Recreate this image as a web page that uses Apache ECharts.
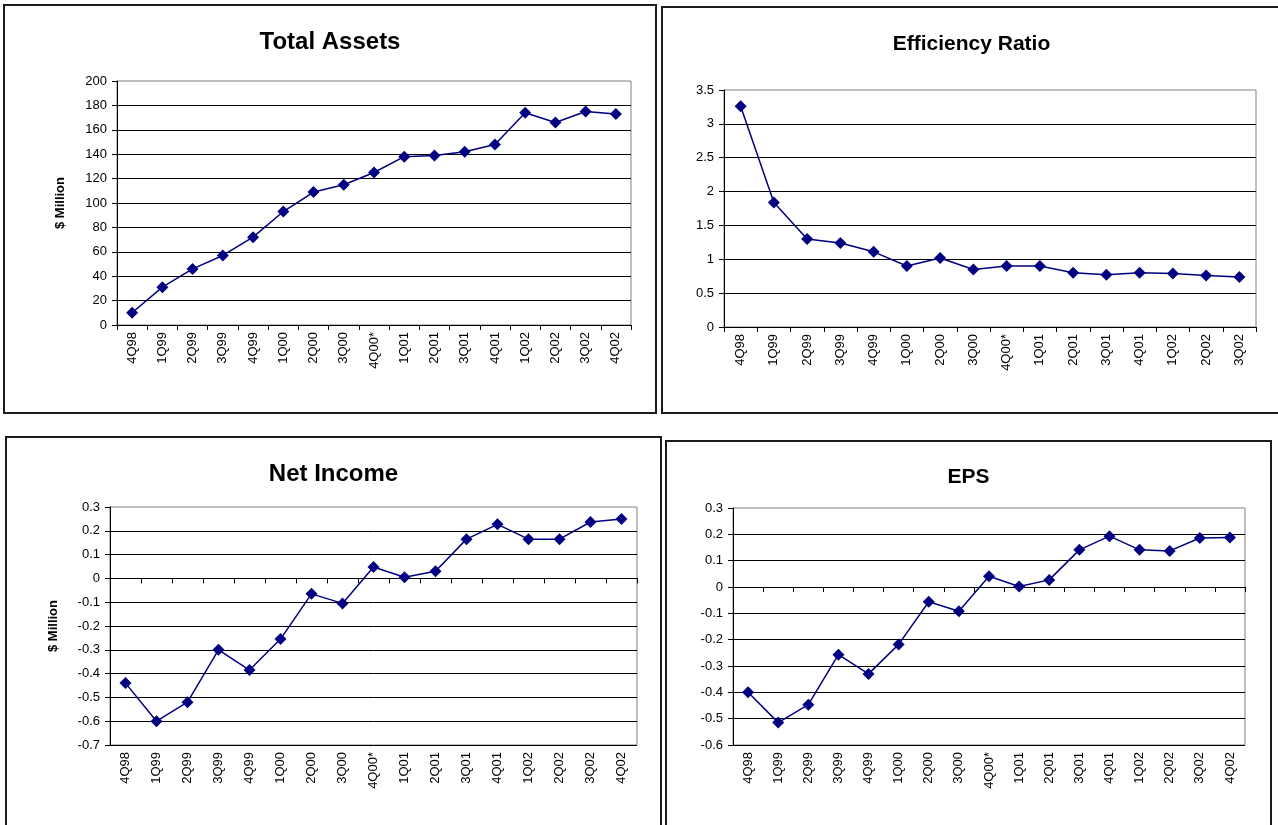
<!DOCTYPE html>
<html>
<head>
<meta charset="utf-8">
<script src="https://cdn.jsdelivr.net/npm/echarts@6/dist/echarts.min.js"></script>
<style>
  html, body { margin: 0; padding: 0; background: #fff; overflow: hidden; }
  .panel { position: absolute; box-sizing: border-box; border: 2px solid #1c1c1c; background: #fff; }
</style>
</head>
<body>
<div id="p1" class="panel" style="left:3px;top:4px;width:654px;height:410px;"></div>
<div id="p2" class="panel" style="left:661px;top:6px;width:621px;height:408px;"></div>
<div id="p3" class="panel" style="left:5px;top:436px;width:657px;height:400px;"></div>
<div id="p4" class="panel" style="left:665px;top:440px;width:607px;height:400px;"></div>
<script>
// quarters (4Q00* as in the report)
var quarters = ['4Q98', '1Q99', '2Q99', '3Q99', '4Q99', '1Q00', '2Q00', '3Q00', '4Q00*',
                '1Q01', '2Q01', '3Q01', '4Q01', '1Q02', '2Q02', '3Q02', '4Q02'];
var effQuarters = ['4Q98', '1Q99', '2Q99', '3Q99', '4Q99', '1Q00', '2Q00', '3Q00', '4Q00*',
                   '1Q01', '2Q01', '3Q01', '4Q01', '1Q02', '2Q02', '3Q02'];

var totalAssets = [10, 31, 46, 57, 72, 93, 109, 115, 125, 138, 139, 142, 148, 174, 166, 175, 173];
var efficiency  = [3.26, 1.84, 1.30, 1.24, 1.11, 0.90, 1.02, 0.85, 0.90, 0.90, 0.80, 0.77, 0.80, 0.79, 0.76, 0.74];
var netIncome   = [-0.44, -0.60, -0.52, -0.30, -0.385, -0.255, -0.065, -0.105, 0.048, 0.005, 0.03,
                   0.165, 0.227, 0.165, 0.165, 0.237, 0.25];
var eps         = [-0.40, -0.515, -0.447, -0.257, -0.33, -0.218, -0.056, -0.092, 0.041, 0.002, 0.027,
                   0.141, 0.193, 0.141, 0.137, 0.186, 0.188];

var FONT = '"Liberation Sans", Arial, sans-serif';

function makeOption(c) {
    return {
        backgroundColor: '#fff',
        animation: false,
        title: {
            text: c.title,
            left: 'center',
            top: c.titleTop,
            padding: 0,
            textStyle: { fontFamily: FONT, fontWeight: 'bold', fontSize: c.titleSize, color: '#000' }
        },
        grid: {
            left: c.grid[0], top: c.grid[1], width: c.grid[2], height: c.grid[3],
            show: true, borderColor: '#808080', borderWidth: 1,
            outerBoundsMode: 'none'
        },
        xAxis: [
            {   // labels along the bottom
                type: 'category',
                data: c.cats,
                boundaryGap: true,
                axisLine: { show: false, onZero: false },
                axisTick: { show: false },
                axisLabel: { rotate: 90, interval: 0, margin: 7, fontFamily: FONT, fontSize: 13, color: '#000' },
                splitLine: { show: false }
            },
            {   // axis line + ticks at zero
                type: 'category',
                data: c.cats,
                position: 'bottom',
                boundaryGap: true,
                axisLine: { show: true, onZero: true, onZeroAxisIndex: 0, lineStyle: { color: '#000', width: 1 } },
                axisTick: { show: true, interval: 0, inside: false, length: 5, lineStyle: { color: '#000' } },
                axisLabel: { show: false, interval: 0 },
                splitLine: { show: false }
            }
        ],
        yAxis: {
            type: 'value',
            min: c.min, max: c.max, interval: c.interval,
            name: c.yName || '',
            nameLocation: 'middle',
            nameGap: c.nameGap || 40,
            nameTextStyle: { fontFamily: FONT, fontWeight: 'bold', fontSize: 13, color: '#000' },
            axisLine: { show: true, lineStyle: { color: '#000', width: 1 } },
            axisTick: { show: true, length: 5, lineStyle: { color: '#000' } },
            axisLabel: { margin: 10, fontFamily: FONT, fontSize: 13, color: '#000' },
            splitLine: { show: true, showMaxLine: false, lineStyle: { color: '#000', width: 1 } }
        },
        series: [{
            type: 'line',
            xAxisIndex: 0,
            data: c.data,
            symbol: 'diamond',
            symbolSize: 12,
            lineStyle: { color: '#000080', width: 1.5 },
            itemStyle: { color: '#000080' }
        }]
    };
}

var chartTotal = echarts.init(document.getElementById('p1'));
chartTotal.setOption(makeOption({
    title: 'Total Assets', titleSize: 24, titleTop: 24,
    grid: [112, 75, 514, 244],
    cats: quarters, data: totalAssets,
    min: 0, max: 200, interval: 20,
    yName: '$ Million', nameGap: 50
}));

var chartEff = echarts.init(document.getElementById('p2'));
chartEff.setOption(makeOption({
    title: 'Efficiency Ratio', titleSize: 21, titleTop: 26,
    grid: [61, 82, 532, 237],
    cats: effQuarters, data: efficiency,
    min: 0, max: 3.5, interval: 0.5
}));

var chartNet = echarts.init(document.getElementById('p3'));
chartNet.setOption(makeOption({
    title: 'Net Income', titleSize: 24, titleTop: 24,
    grid: [103, 69, 527, 238],
    cats: quarters, data: netIncome,
    min: -0.7, max: 0.3, interval: 0.1,
    yName: '$ Million', nameGap: 50
}));

var chartEps = echarts.init(document.getElementById('p4'));
chartEps.setOption(makeOption({
    title: 'EPS', titleSize: 21, titleTop: 25,
    grid: [66, 66, 512, 237],
    cats: quarters, data: eps,
    min: -0.6, max: 0.3, interval: 0.1
}));
</script>
</body>
</html>
